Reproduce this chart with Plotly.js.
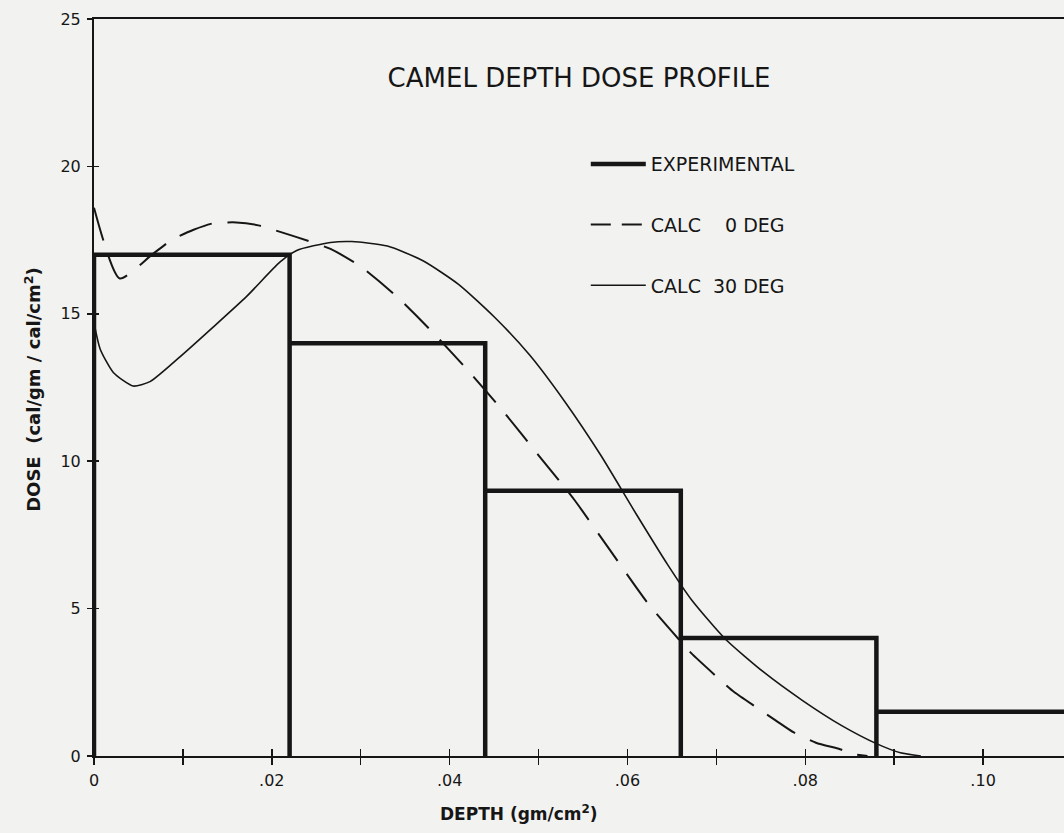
<!DOCTYPE html>
<html>
<head>
<meta charset="utf-8">
<script src="https://cdn.plot.ly/plotly-3.0.1.min.js"></script>
<style>
  html, body { margin: 0; padding: 0; background: #f2f2f0; }
  #chart { width: 1064px; height: 833px; }
</style>
</head>
<body>
<div id="chart"></div>
<script>
// ---- Data ----
// Experimental: histogram bins (edges in gm/cm^2) and dose per bin
const binEdges = [0, 0.022, 0.044, 0.066, 0.088, 0.110];
const expDose  = [17, 14, 9, 4, 1.5];

// Calculated, 0 degrees (dashed)
const calc0Depth = [0, 0.0029, 0.0065, 0.0087, 0.0112, 0.0134, 0.0160, 0.0185, 0.0204, 0.0228, 0.0266,
                    0.030, 0.034, 0.038, 0.042, 0.046, 0.050, 0.054, 0.058, 0.0624, 0.066,
                    0.0672, 0.0707, 0.072, 0.0745, 0.0767, 0.0787, 0.0812, 0.0839, 0.0855, 0.0870];
const calc0Dose  = [18.6, 16.2, 17.0, 17.5, 17.85, 18.07, 18.1, 18.0, 17.83, 17.6, 17.2,
                    16.6, 15.6, 14.4, 13.1, 11.7, 10.2, 8.7, 7.0, 5.14, 3.88,
                    3.48, 2.51, 2.17, 1.65, 1.2, 0.8, 0.45, 0.23, 0.06, 0];

// Calculated, 30 degrees (thin solid)
const calc30Depth = [0, 0.0007, 0.0022, 0.0044, 0.0063, 0.0097, 0.0134, 0.0172, 0.0209, 0.0228, 0.0266,
                     0.0290, 0.033, 0.037, 0.041, 0.045, 0.049, 0.053, 0.057, 0.061, 0.0645,
                     0.0672, 0.071, 0.0753, 0.0797, 0.0841, 0.088, 0.0907, 0.0930];
const calc30Dose  = [14.7, 13.8, 13.0, 12.55, 12.7, 13.55, 14.55, 15.6, 16.75, 17.15, 17.42,
                     17.45, 17.3, 16.8, 16.0, 14.9, 13.6, 12.0, 10.2, 8.2, 6.5,
                     5.3, 3.97, 2.85, 1.88, 1.03, 0.42, 0.11, 0];

// Series names and tick labels
const seriesNames = ['EXPERIMENTAL', 'CALC&nbsp;&nbsp;&nbsp;&nbsp;0 DEG', 'CALC&nbsp;&nbsp;30 DEG'];
const xTickVals  = [0, 0.02, 0.04, 0.06, 0.08, 0.10];
const xTickText  = ['0', '.02', '.04', '.06', '.08', '.10'];
const xMinorVals = [0.01, 0.02, 0.03, 0.04, 0.05, 0.06, 0.07, 0.08, 0.09, 0.10];
const yTickVals  = [0, 5, 10, 15, 20, 25];

// ---- Build experimental outline from bins ----
const expX = [], expY = [];
for (let i = 0; i < expDose.length; i++) {
  expX.push(binEdges[i], binEdges[i], binEdges[i + 1], binEdges[i + 1]);
  expY.push(0, expDose[i], expDose[i], 0);
}

const ink = '#161616';
const FONT = 'DejaVu Sans, Liberation Sans, sans-serif';
const xRange = [0, 0.1091];
const yRange = [0, 25];

const expLine   = { color: ink, width: 4.5 };
const calc0Line = { color: ink, width: 2, dash: '34px,16px', shape: 'spline', smoothing: 0.6 };
const calc30Line = { color: ink, width: 1.6, shape: 'spline', smoothing: 0.6 };

const traces = [
  { x: expX, y: expY, type: 'scatter', mode: 'lines', showlegend: false, line: expLine },
  { x: calc0Depth, y: calc0Dose, type: 'scatter', mode: 'lines', showlegend: false, line: calc0Line },
  { x: calc30Depth, y: calc30Dose, type: 'scatter', mode: 'lines', showlegend: false, line: calc30Line },
  // legend entries (no data points; only the key samples)
  { x: [null], y: [null], type: 'scatter', mode: 'lines', name: seriesNames[0], legendgroup: 'a', line: expLine },
  { x: [null], y: [null], type: 'scatter', mode: 'lines', name: seriesNames[1], legendgroup: 'b',
    line: { color: ink, width: 2, dash: '20px,11px' } },
  { x: [null], y: [null], type: 'scatter', mode: 'lines', name: seriesNames[2], legendgroup: 'c', line: { color: ink, width: 1.6 } },
  // empty trace to anchor the overlay axes (inner half of crossing ticks)
  { x: [], y: [], xaxis: 'x2', yaxis: 'y2', type: 'scatter', mode: 'lines', showlegend: false, hoverinfo: 'skip' }
];

const layout = {
  width: 1064, height: 833,
  margin: { l: 94, r: 0, t: 19, b: 77 },
  paper_bgcolor: '#f2f2f0',
  plot_bgcolor: '#f2f2f0',
  font: { family: FONT, color: ink },
  showlegend: true,
  legend: {
    x: 0.507, y: 0.829, xanchor: 'left', yanchor: 'top',
    bgcolor: 'rgba(0,0,0,0)', borderwidth: 0,
    traceorder: 'grouped', tracegroupgap: 33, itemwidth: 55,
    font: { family: FONT, size: 19, color: ink }
  },
  xaxis: {
    range: xRange, showgrid: false, zeroline: false,
    showline: true, linecolor: ink, linewidth: 2, mirror: true,
    tickmode: 'array', tickvals: xTickVals, ticktext: xTickText,
    ticks: 'outside', ticklen: 7, tickwidth: 1.5, tickcolor: ink,
    minor: { tickmode: 'array', tickvals: xMinorVals, ticks: 'outside', ticklen: 7, tickwidth: 1.5, tickcolor: ink, showgrid: false },
    tickfont: { family: FONT, size: 16, color: ink },
    ticklabelstandoff: 2
  },
  yaxis: {
    range: yRange, showgrid: false, zeroline: false,
    showline: true, linecolor: ink, linewidth: 2,
    tickmode: 'array', tickvals: yTickVals,
    ticks: 'outside', ticklen: 5, tickwidth: 1.5, tickcolor: ink,
    tickfont: { family: FONT, size: 16, color: ink },
    ticklabelstandoff: 3
  },
  xaxis2: {
    overlaying: 'x', range: xRange, showgrid: false, zeroline: false, showline: false,
    tickmode: 'array', tickvals: xMinorVals, ticks: 'inside', ticklen: 7, tickwidth: 1.5, tickcolor: ink,
    showticklabels: false
  },
  yaxis2: {
    overlaying: 'y', range: yRange, showgrid: false, zeroline: false, showline: false,
    tickmode: 'array', tickvals: [5, 10, 15, 20], ticks: 'inside', ticklen: 5, tickwidth: 1.5, tickcolor: ink,
    showticklabels: false
  },
  title: {
    text: 'CAMEL DEPTH DOSE PROFILE',
    x: 0.5, xref: 'paper', xanchor: 'center',
    y: 0.906, yref: 'container', yanchor: 'middle',
    font: { family: FONT, size: 26, color: ink }
  },
  annotations: [
    {
      text: 'DEPTH (gm/cm<sup>2</sup>)',
      xref: 'paper', yref: 'paper', x: 0.438, y: -0.078,
      xanchor: 'center', yanchor: 'middle', showarrow: false,
      font: { family: FONT, size: 17, color: ink, weight: 'bold' }
    },
    {
      text: 'DOSE&nbsp;&nbsp;(cal/gm / cal/cm<sup>2</sup>)',
      xref: 'paper', yref: 'paper', x: -0.063, y: 0.498,
      xanchor: 'center', yanchor: 'middle', showarrow: false, textangle: -90,
      font: { family: FONT, size: 18, color: ink, weight: 'bold' }
    }
  ]
};

Plotly.newPlot('chart', traces, layout, { displayModeBar: false, staticPlot: true });
</script>
</body>
</html>
